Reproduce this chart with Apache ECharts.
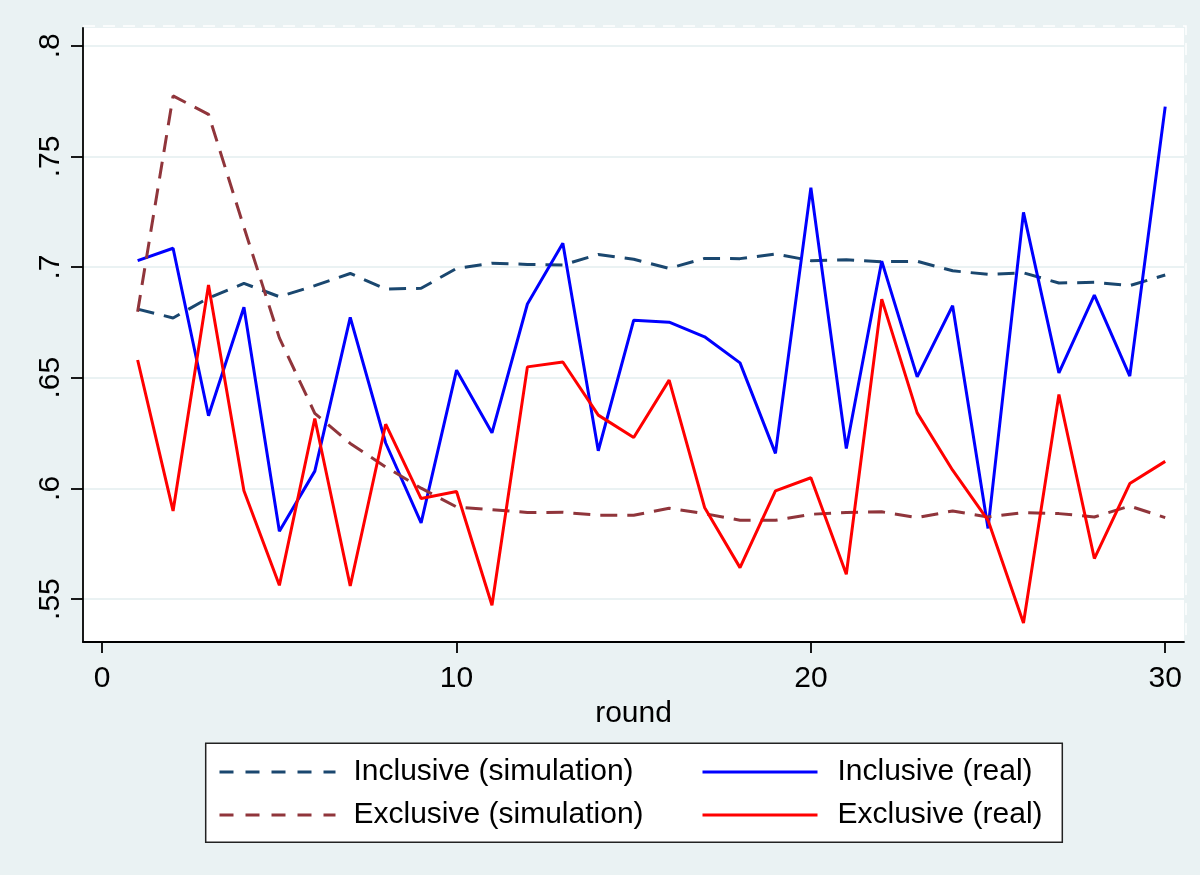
<!DOCTYPE html>
<html>
<head>
<meta charset="utf-8">
<script src="https://cdn.jsdelivr.net/npm/echarts@6/dist/echarts.min.js"></script>
<style>html,body{margin:0;padding:0;background:#eaf2f3;}#c{width:1200px;height:875px;}</style>
</head>
<body>
<div id="c"></div>
<script>
var rounds = [1,2,3,4,5,6,7,8,9,10,11,12,13,14,15,16,17,18,19,20,21,22,23,24,25,26,27,28,29,30];
var inclusiveSim = [0.681,0.677,0.686,0.6926,0.6866,0.6916,0.6971,0.6901,0.6904,0.6994,0.7017,0.7012,0.7009,0.7057,0.7035,0.6994,0.7039,0.7038,0.7059,0.7029,0.7033,0.7024,0.7026,0.6983,0.6967,0.6974,0.6928,0.6931,0.6916,0.6964];
var exclusiveSim = [0.6798,0.7773,0.769,0.718,0.668,0.6339,0.6203,0.6097,0.6001,0.5916,0.5904,0.5891,0.5892,0.5879,0.5879,0.591,0.5886,0.5856,0.5856,0.5883,0.5891,0.5894,0.5868,0.5898,0.5871,0.5891,0.5886,0.5871,0.592,0.5868];
var inclusiveReal = [0.7029,0.7085,0.6328,0.6818,0.5806,0.6078,0.6773,0.6205,0.5844,0.6534,0.6251,0.6833,0.7107,0.617,0.676,0.6751,0.6685,0.6567,0.6158,0.7359,0.618,0.7027,0.6504,0.6825,0.5819,0.7247,0.6522,0.6873,0.6507,0.7725];
var exclusiveReal = [0.658,0.5898,0.6919,0.5989,0.5562,0.6316,0.5559,0.629,0.5954,0.5986,0.5472,0.6549,0.6571,0.6331,0.623,0.6489,0.5914,0.5642,0.5989,0.6048,0.5612,0.6855,0.6341,0.6082,0.5856,0.5392,0.6424,0.5683,0.6022,0.6122];
var xTicks = [0,10,20,30];
var yTicks = [0.55,0.6,0.65,0.7,0.75,0.8];
var seriesNames = ['Inclusive (simulation)','Inclusive (real)','Exclusive (simulation)','Exclusive (real)'];

function pairs(vals){ return rounds.map(function(r,i){ return [r, vals[i]]; }); }
function yFmt(v){ return String(Math.round(v*100)/100).replace(/^0/, ''); }

var chart = echarts.init(document.getElementById('c'), null, {renderer:'canvas'});
var font = 'Liberation Sans, Arial, sans-serif';
var dash = [17, 10];
var option = {
  backgroundColor: '#eaf2f3',
  animation: false,
  grid: { left: 83, right: 16, top: 28, bottom: 233, show: true, backgroundColor: '#ffffff', borderWidth: 0 },
  xAxis: {
    type: 'value', min: -0.542, max: 30.53,
    name: 'round', nameLocation: 'middle', nameGap: 52,
    nameTextStyle: { fontSize: 30, color: '#000', fontFamily: font },
    axisLine: { show: true, onZero: false, lineStyle: { color: '#000', width: 1.8 } },
    axisTick: { show: true, length: 11, customValues: xTicks, lineStyle: { color: '#000', width: 1.8 } },
    axisLabel: { customValues: xTicks, margin: 22, fontSize: 30, color: '#000', fontFamily: font },
    splitLine: { show: false }
  },
  yAxis: {
    type: 'value', min: 0.5306, max: 0.808,
    axisLine: { show: true, onZero: false, lineStyle: { color: '#000', width: 1.8 } },
    axisTick: { show: true, length: 12, customValues: yTicks, lineStyle: { color: '#000', width: 1.8 } },
    axisLabel: { customValues: yTicks, rotate: 90, margin: 17, fontSize: 30, color: '#000', fontFamily: font, formatter: yFmt },
    splitLine: { show: true, lineStyle: { color: '#eaf2f3', width: 2 } }
  },
  legend: [
    { left: 218, top: 757, orient: 'vertical', padding: 0, itemGap: 13, itemWidth: 116, itemHeight: 14,
      data: [seriesNames[0], seriesNames[2]],
      itemStyle: { opacity: 0 },
      lineStyle: { width: 3, type: [14, 12] },
      textStyle: { fontSize: 30, color: '#000', fontFamily: font, padding: [0,0,0,13] } },
    { left: 701, top: 757, orient: 'vertical', padding: 0, itemGap: 13, itemWidth: 115, itemHeight: 14,
      data: [seriesNames[1], seriesNames[3]],
      itemStyle: { opacity: 0 },
      lineStyle: { width: 3 },
      textStyle: { fontSize: 30, color: '#000', fontFamily: font, padding: [0,0,0,15] } }
  ],
  graphic: [
    { type: 'rect', z: -1, shape: { x: 205.7, y: 743.3, width: 856.6, height: 99 },
      style: { fill: '#ffffff', stroke: '#222222', lineWidth: 1.5 } },
    { type: 'polyline', z: 1, shape: { points: [[83,26],[1186,26],[1186,642]] },
      style: { fill: null, stroke: '#ffffff', lineWidth: 1.5, lineDash: [12, 8] } }
  ],
  series: [
    { name: seriesNames[0], type: 'line', data: pairs(inclusiveSim), symbol: 'none', color: '#1a476f',
      lineStyle: { color: '#1a476f', width: 3, type: dash } },
    { name: seriesNames[1], type: 'line', data: pairs(inclusiveReal), symbol: 'none', color: '#0000ff',
      lineStyle: { color: '#0000ff', width: 3 } },
    { name: seriesNames[2], type: 'line', data: pairs(exclusiveSim), symbol: 'none', color: '#90353b',
      lineStyle: { color: '#90353b', width: 3, type: dash } },
    { name: seriesNames[3], type: 'line', data: pairs(exclusiveReal), symbol: 'none', color: '#ff0000',
      lineStyle: { color: '#ff0000', width: 3 } }
  ]
};
chart.setOption(option);
</script>
</body>
</html>
